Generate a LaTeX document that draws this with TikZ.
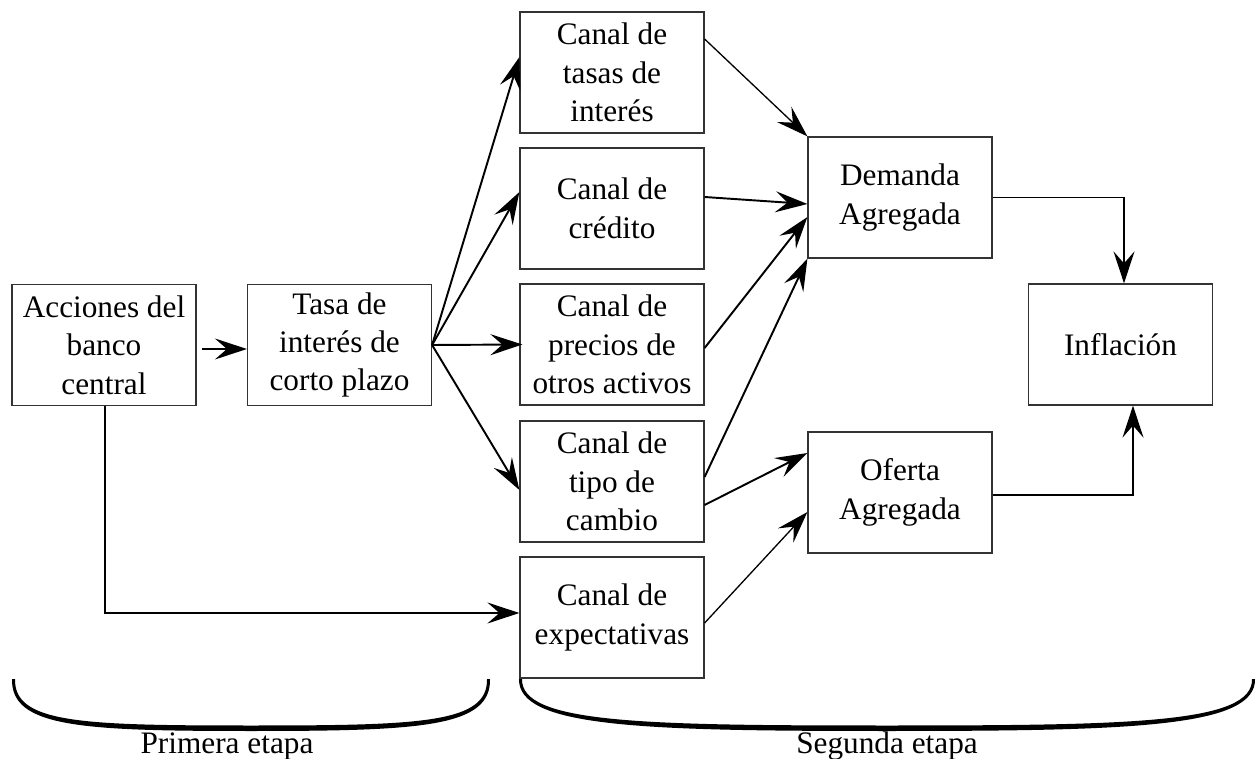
\documentclass[tikz,border=0pt]{standalone}
\usepackage{fontspec}
\setmainfont{Liberation Serif}
\usepackage{tikz}
\usetikzlibrary{arrows,arrows.meta,%
                shapes,positioning}

\tikzset{caja/.style={draw=black!80, line width=0.7pt, minimum width=3.68cm,
                      minimum height=2.42cm, inner sep=0pt, align=center,
                      font=\fontsize{17.8}{21.9}\selectfont},
         etiqueta/.style={inner sep=0pt, font=\fontsize{17.8}{21.9}\selectfont},
         flecha/.style={-{Stealth[length=0.64cm,width=0.42cm,inset=0.24cm]}, line width=1.1pt},
         flechafina/.style={flecha, line width=0.75pt}}

\begin{document}
\begin{tikzpicture}[x=0.02cm,y=-0.02cm]
\useasboundingbox (0,0) rectangle (1257,759);

\node[caja] (acc)    at (104,345)    {Acciones del\\banco\\central};
\node[caja] (tasa)   at (339.5,345)  {Tasa de\\interés de\\corto plazo};
\node[caja] (ctasas) at (612,72.5)   {Canal de\\tasas de\\interés};
\node[caja] (ccred)  at (612,208.5)  {Canal de\\crédito};
\node[caja] (cprec)  at (612,344.5)  {Canal de\\precios de\\otros activos};
\node[caja] (ctipo)  at (612,481.5)  {Canal de\\tipo de\\cambio};
\node[caja] (cexp)   at (612,617.5)  {Canal de\\expectativas};
\node[caja] (dem)    at (900,197.5)  {Demanda\\Agregada};
\node[caja] (ofe)    at (900,492.5)  {Oferta\\Agregada};
\node[caja] (inf)    at (1120.5,344.5) {Inflación};

\draw[flechafina, shorten <=3pt] ([yshift=-0.08cm]acc.east) -- ([yshift=-0.08cm]tasa.west);
\draw[flecha] (tasa.east) -- ([yshift=0.31cm]ctasas.west);
\draw[flecha] (tasa.east) -- ([yshift=0.33cm]ccred.west);
\draw[flecha] (tasa.east) -- ([xshift=0.06cm]cprec.west);
\draw[flecha] (tasa.east) -- ([yshift=-0.17cm]ctipo.west);
\draw[flecha] ([xshift=0.02cm]acc.south) |- ([yshift=0.09cm]cexp.west);

\draw[flechafina] ([yshift=0.67cm]ctasas.east) -- (dem.north west);
\draw[flecha] ([yshift=0.23cm]ccred.east) -- ([yshift=-0.13cm]dem.west);
\draw[flecha] ([yshift=-0.07cm]cprec.east) -- ([yshift=-0.39cm]dem.west);
\draw[flecha] ([yshift=0.09cm]ctipo.east) -- (dem.south west);
\draw[flecha] ([yshift=-0.47cm]ctipo.east) -- ([yshift=0.79cm]ofe.west);
\draw[flechafina] ([yshift=-0.11cm]cexp.east) -- ([yshift=-0.39cm]ofe.west);

\draw[flecha] (dem.east) -| ([xshift=0.07cm]inf.north);
\draw[flecha] ([yshift=-0.05cm]ofe.east) -| ([xshift=0.25cm]inf.south);

\fill (12,679) .. controls (11,727) and (80,731) .. (251,731)
      .. controls (422,731) and (491,727) .. (490,679)
      -- (487,679) .. controls (488,723) and (422,725.5) .. (251,725.5)
      .. controls (80,725.5) and (14,723) .. (15,679) -- cycle;
\fill (519,679) .. controls (518,727) and (640,731) .. (887,731)
      .. controls (1134,731) and (1256,727) .. (1255,679)
      -- (1252,679) .. controls (1253,723) and (1134,725.5) .. (887,725.5)
      .. controls (640,725.5) and (521,723) .. (522,679) -- cycle;

\node[etiqueta] (prim) at (227,746) {Primera etapa};
\node[etiqueta] (seg)  at (887,746) {Segunda etapa};
\end{tikzpicture}
\end{document}
